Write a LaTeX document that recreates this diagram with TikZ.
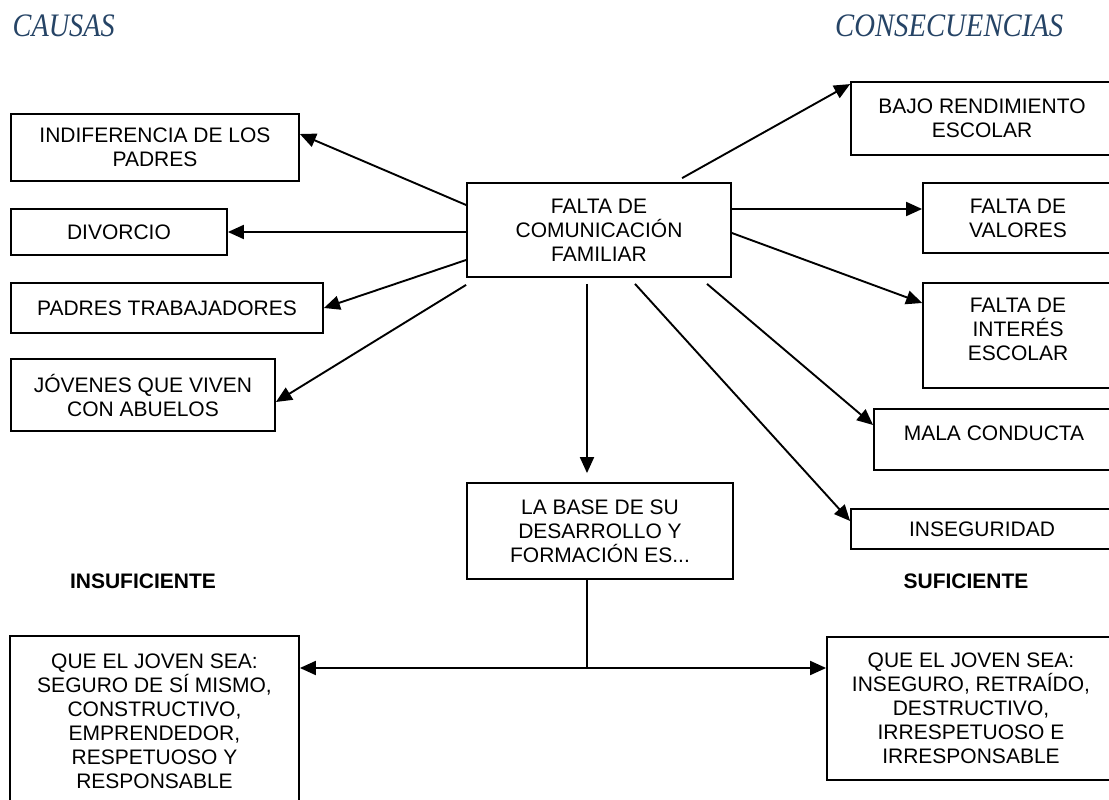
\documentclass[tikz,border=0pt]{standalone}
\usepackage{fontspec}
\usepackage{graphicx}
\setmainfont{Liberation Sans}
\newfontfamily\headfont{Liberation Serif}
\usetikzlibrary{arrows.meta}
\definecolor{headblue}{HTML}{264466}
\tikzset{
  box/.style={draw=black, line width=1.8pt, rectangle, inner sep=0pt, align=center,
    font=\fontsize{21}{24}\selectfont},
  boxtext/.style={inner sep=0pt, align=center, font=\fontsize{21}{24}\selectfont},
  conn/.style={line width=1.9pt, -{Triangle[length=16pt,width=14pt]}},
  plain/.style={line width=1.9pt},
  head/.style={inner sep=0pt, anchor=base west, text=headblue},
  side/.style={inner sep=0pt, font=\fontsize{21}{24}\selectfont\bfseries}
}
\begin{document}
\begin{tikzpicture}[x=1pt,y=-1pt]
\useasboundingbox (0,0) rectangle (1109,800);
\clip (0,0) rectangle (1109,800);
\fill[white] (0,0) rectangle (1109,800);

% headings
\node[head] (causas) at (12.5,37) {\resizebox{102pt}{21.7pt}{\headfont\itshape CAUSAS}};
\node[head] (consec) at (835,37) {\resizebox{228pt}{21.7pt}{\headfont\itshape CONSECUENCIAS}};

% causes
\node[box, minimum width=288pt, minimum height=67pt] (ind) at (155,147.5) {INDIFERENCIA DE LOS\\PADRES};
\node[box, minimum width=216pt, minimum height=46pt] (div) at (119,232) {DIVORCIO};
\node[box, minimum width=312pt, minimum height=50pt] (pad) at (167,308) {PADRES TRABAJADORES};
\node[box, minimum width=264pt, minimum height=72pt] (jov) at (143,395) {JÓVENES QUE VIVEN\\CON ABUELOS};

% centre
\node[box, minimum width=264pt, minimum height=94pt] (fcf) at (599,230) {FALTA DE\\COMUNICACIÓN\\FAMILIAR};

% consequences
\node[box, minimum width=262pt, minimum height=73pt] (bajo) at (982,118.5) {BAJO RENDIMIENTO\\ESCOLAR};
\node[box, minimum width=190pt, minimum height=70pt] (val) at (1018,218) {FALTA DE\\VALORES};
\node[box, minimum width=190pt, minimum height=105pt] (int) at (1018,335.5) {};
\node[boxtext] (intt) at (1018,329) {FALTA DE\\INTERÉS\\ESCOLAR};
\node[box, minimum width=240pt, minimum height=61pt] (mala) at (994,439.5) {};
\node[boxtext] (malat) at (994,433) {MALA CONDUCTA};
\node[box, minimum width=262pt, minimum height=40pt] (inse) at (982,529) {INSEGURIDAD};

% base
\node[box, minimum width=266pt, minimum height=96pt] (base) at (600,531) {LA BASE DE SU\\DESARROLLO Y\\FORMACIÓN ES...};

\node[side] (insuf) at (143,581) {INSUFICIENTE};
\node[side] (suf) at (966,581) {SUFICIENTE};

% bottom boxes
\node[box, minimum width=289pt, minimum height=210pt] (qL) at (154.5,741) {};
\node[boxtext, anchor=north] (qLt) at (154.5,654) {QUE EL JOVEN SEA:\\SEGURO DE SÍ MISMO,\\CONSTRUCTIVO,\\EMPRENDEDOR,\\RESPETUOSO Y\\RESPONSABLE};
\node[box, minimum width=288pt, minimum height=143pt] (qR) at (971,708.5) {QUE EL JOVEN SEA:\\INSEGURO, RETRAÍDO,\\DESTRUCTIVO,\\IRRESPETUOSO E\\IRRESPONSABLE};

% connectors: causes
\draw[conn] ([yshift=25pt]fcf.west) -- ([yshift=13.5pt]ind.east);
\draw[conn] (fcf.west |- div.east) -- (div.east);
\draw[conn] ([yshift=-30pt]fcf.west) -- (pad.east);
\draw[conn] ([yshift=-7pt]fcf.south west) -- ([yshift=-7pt]jov.east);

% connectors: consequences
\draw[conn] ([shift={(216pt,4pt)}]fcf.north west) -- ([yshift=-3pt]bajo.north west);
\coordinate (v1) at ([yshift=21pt]fcf.east);
\draw[conn] (v1) -- (v1 -| val.west);
\draw[conn] ([yshift=-3pt]fcf.east) -- ([yshift=32.5pt]int.west);
\draw[conn] ([shift={(108pt,-6pt)}]fcf.south) -- ([yshift=14.5pt]mala.west);
\draw[conn] ([shift={(36pt,-6pt)}]fcf.south) -- ([yshift=8pt]inse.west);
\draw[conn] ([shift={(-12pt,-6pt)}]fcf.south) -- ([shift={(-13pt,9pt)}]base.north);

% bottom branching
\coordinate (j) at (587,668);
\draw[plain] ([xshift=-13pt]base.south) -- (j);
\draw[conn] (j) -- (j -| qL.east);
\draw[conn] (j) -- (j -| qR.west);
\end{tikzpicture}
\end{document}
